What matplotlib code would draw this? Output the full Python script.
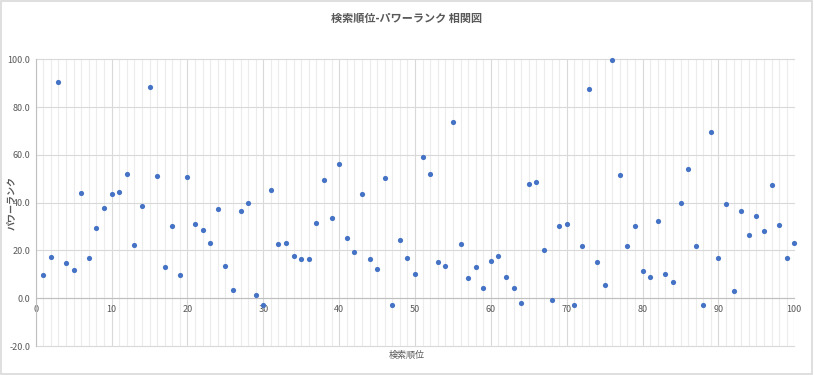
import matplotlib
matplotlib.use("Agg")
import matplotlib.pyplot as plt
from matplotlib.ticker import MultipleLocator, FormatStrFormatter
from matplotlib.patches import Rectangle

plt.rcParams['font.family'] = ['Noto Sans CJK JP', 'DejaVu Sans']

rank = list(range(1, 101))
power = [9.6, 17.2, 90.4, 14.6, 11.7, 43.9, 16.7, 29.3, 37.7, 43.5,
         44.4, 51.9, 22.2, 38.5, 88.3, 51.0, 13.0, 30.1, 9.6, 50.6,
         31.0, 28.5, 23.0, 37.2, 13.4, 3.3, 36.4, 39.7, 1.3, -2.9,
         45.2, 22.6, 23.0, 17.6, 16.3, 16.3, 31.4, 49.4, 33.5, 56.1,
         25.1, 19.2, 43.5, 16.3, 12.1, 50.2, -2.9, 24.3, 16.7, 10.0,
         59.0, 51.9, 15.1, 13.4, 73.6, 22.6, 8.4, 13.0, 4.2, 15.5,
         17.6, 8.8, 4.2, -2.1, 47.7, 48.5, 20.1, -0.8, 30.1, 31.0,
         -2.9, 21.8, 87.4, 15.1, 5.4, 99.6, 51.5, 21.8, 30.1, 11.3,
         8.8, 32.2, 10.0, 6.7, 39.7, 54.0, 21.8, -2.9, 69.5, 16.7,
         39.3, 2.9, 36.4, 26.4, 34.3, 28.0, 47.3, 30.5, 16.7, 23.0]

title = "検索順位-パワーランク 相関図"
xlabel = "検索順位"
ylabel = "パワーランク"

fig = plt.figure(figsize=(8.14, 3.75), dpi=100)
fig.patch.set_facecolor('white')
fig.patches.append(Rectangle((0.001, 0.003), 0.997, 0.994, transform=fig.transFigure,
                             fill=False, edgecolor='#d9d9d9', linewidth=1.2))

ax = fig.add_axes([0.0439, 0.0773, 0.9319, 0.7646])
ax.set_xlim(0, 100)
ax.set_ylim(-20, 100)

ax.xaxis.set_major_locator(MultipleLocator(10))
ax.xaxis.set_minor_locator(MultipleLocator(1))
ax.yaxis.set_major_locator(MultipleLocator(20))
ax.yaxis.set_major_formatter(FormatStrFormatter('%.1f'))

ax.grid(which='minor', axis='x', color='#ececec', linewidth=0.8)
ax.grid(which='major', axis='x', color='#d9d9d9', linewidth=0.8)
ax.grid(which='major', axis='y', color='#d9d9d9', linewidth=0.8)
for gl in ax.get_ygridlines() + ax.get_xgridlines():
    gl.set_clip_on(False)
ax.set_axisbelow(True)

for s in ['top', 'right']:
    ax.spines[s].set_visible(False)
ax.spines['bottom'].set_position(('data', 0))
ax.spines['bottom'].set_color('#bfbfbf')
ax.spines['left'].set_color('#bfbfbf')
ax.spines['bottom'].set_linewidth(0.8)
ax.spines['left'].set_linewidth(0.8)

ax.tick_params(which='both', length=0, colors='#595959', labelsize=6.5, pad=4)
ax.tick_params(axis='x', pad=5)

ax.scatter(rank, power, s=14, color='#4472C4', zorder=3, clip_on=False, linewidths=0)

fig.text(0.5, 0.952, title, ha='center', va='center', fontsize=8, fontweight='bold', color='#595959')
fig.text(0.5, 0.053, xlabel, ha='center', va='center', fontsize=6.5, color='#595959')
fig.text(0.0135, 0.46, ylabel, ha='center', va='center', rotation=90, fontsize=6.5,
         fontweight='bold', color='#595959')

fig.savefig('out.png', dpi=100)
